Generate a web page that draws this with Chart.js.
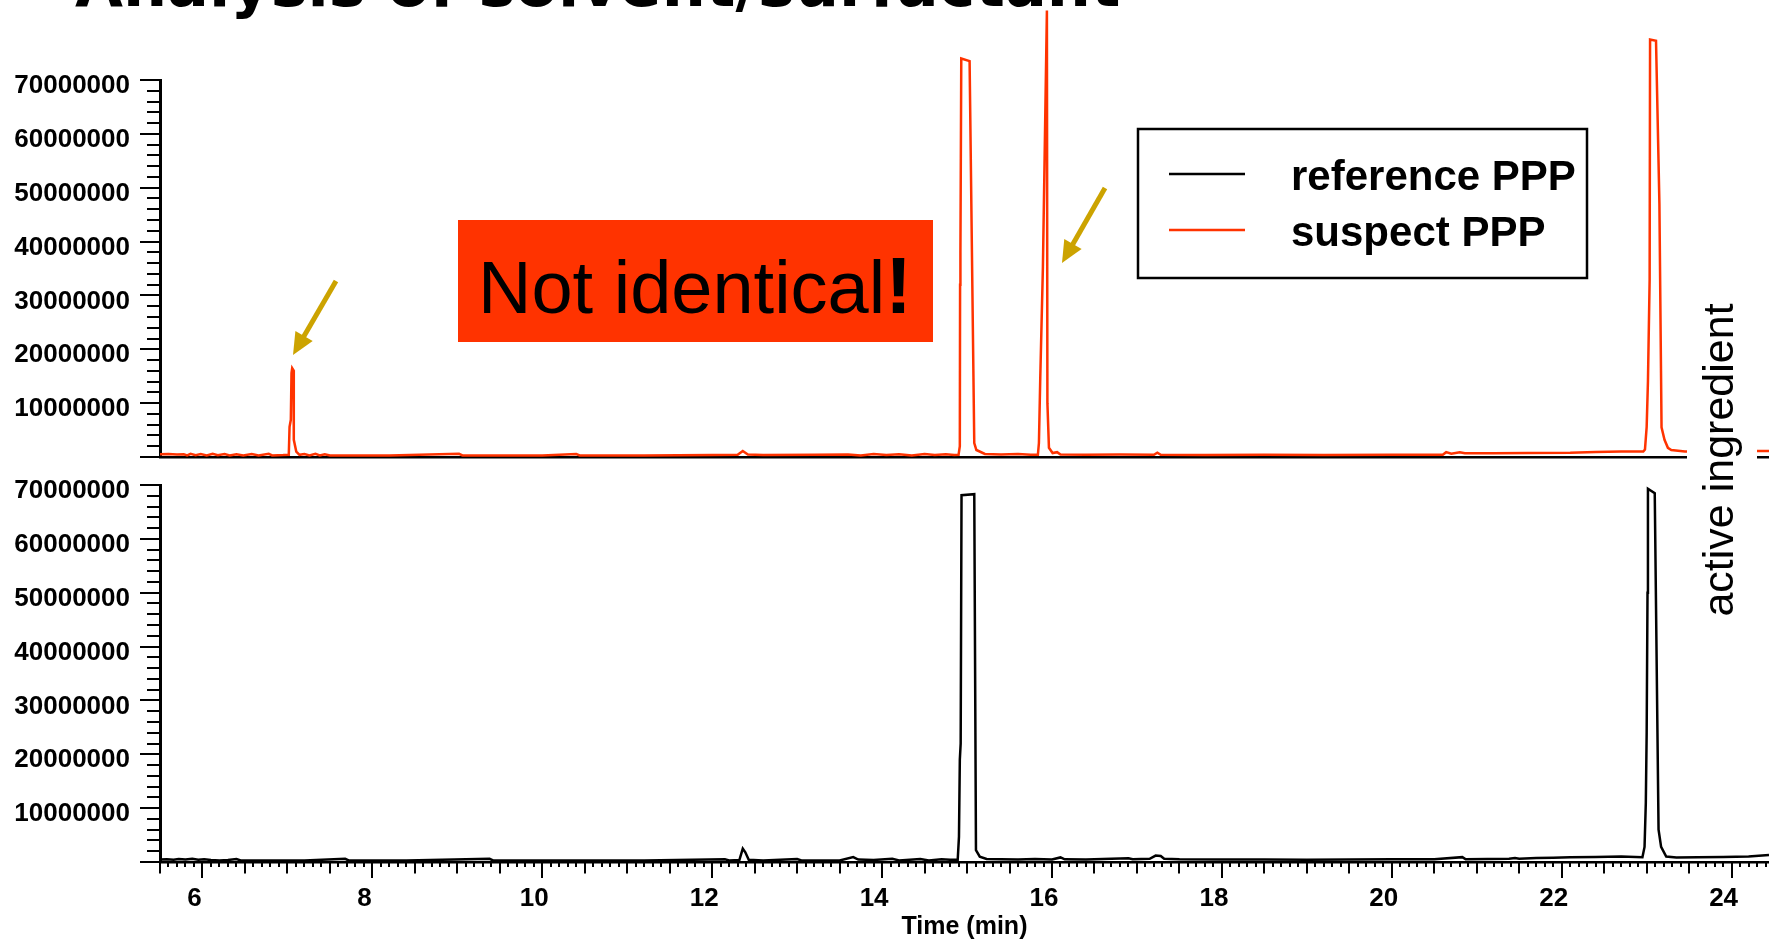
<!DOCTYPE html>
<html>
<head>
<meta charset="utf-8">
<title>Analysis of solvent/surfactant</title>
<script src="https://cdn.jsdelivr.net/npm/chart.js@4.4.1/dist/chart.umd.min.js"></script>
<style>
  html, body { margin:0; padding:0; background:#fff; overflow:hidden; }
  #page { position:relative; width:1769px; height:940px; }
  .pane { position:absolute; left:0; width:1769px; }
  #topPane { top:0; height:517px; }
  #botPane { top:425px; height:515px; }
  #overlay { position:absolute; left:0; top:0; pointer-events:none; }
</style>
</head>
<body>
<div id="page">
  <div class="pane" id="topPane"><canvas id="suspectChart"></canvas></div>
  <div class="pane" id="botPane"><canvas id="referenceChart"></canvas></div>
  <svg id="overlay" width="1769" height="940"></svg>
</div>
<script>
/* ---- data (time in min, signal in counts) ---- */
const refTime = [5.50, 5.58, 5.66, 5.72, 5.80, 5.88, 5.95, 6.02, 6.10, 6.20, 6.30, 6.40, 6.45, 6.80, 7.20,
  7.68, 7.72, 8.40, 9.38, 9.42, 10.40, 11.20, 12.15, 12.20, 12.32, 12.36, 12.39, 12.43, 12.60, 13.00,
  13.05, 13.50, 13.66, 13.72, 13.90, 14.12, 14.20, 14.45, 14.55, 14.70, 14.80, 14.89, 14.905, 14.915, 14.925,
  14.935, 15.085, 15.105, 15.15, 15.23, 15.40, 15.60, 15.80, 16.00, 16.10, 16.15, 16.40, 16.60, 16.90, 16.95,
  17.15, 17.22, 17.28, 17.32, 17.50, 18.00, 18.50, 19.00, 19.50, 20.00, 20.50, 20.83, 20.87, 21.38, 21.45,
  21.50, 21.70, 21.90, 22.10, 22.40, 22.70, 22.95, 22.975, 22.99, 23.00, 23.01, 23.015, 23.095, 23.14, 23.17,
  23.23, 23.35, 23.60, 23.90, 24.20, 24.44];
const refSignal = [0.45e6, 0.5e6, 0.4e6, 0.55e6, 0.45e6, 0.6e6, 0.4e6, 0.5e6, 0.35e6, 0.3e6, 0.35e6, 0.55e6, 0.3e6, 0.3e6, 0.3e6,
  0.6e6, 0.3e6, 0.3e6, 0.6e6, 0.3e6, 0.3e6, 0.3e6, 0.5e6, 0.3e6, 0.35e6, 2.5e6, 1.8e6, 0.4e6, 0.3e6, 0.55e6,
  0.3e6, 0.3e6, 0.9e6, 0.45e6, 0.35e6, 0.6e6, 0.3e6, 0.55e6, 0.3e6, 0.5e6, 0.4e6, 0.4e6, 4.7e6, 19e6, 22e6,
  68.1e6, 68.3e6, 2.2e6, 1.0e6, 0.56e6, 0.5e6, 0.45e6, 0.55e6, 0.45e6, 0.85e6, 0.5e6, 0.45e6, 0.55e6, 0.7e6, 0.5e6,
  0.6e6, 1.2e6, 1.1e6, 0.6e6, 0.5e6, 0.45e6, 0.45e6, 0.4e6, 0.45e6, 0.5e6, 0.5e6, 0.9e6, 0.5e6, 0.6e6, 0.75e6,
  0.6e6, 0.75e6, 0.8e6, 0.9e6, 0.95e6, 1.0e6, 0.9e6, 2.8e6, 11e6, 24e6, 50e6, 69.3e6, 68.5e6, 6e6, 2.8e6,
  1.0e6, 0.85e6, 0.9e6, 0.95e6, 1.0e6, 1.3e6];

const susTime = [5.50, 5.60, 5.70, 5.78, 5.82, 5.86, 5.92, 5.98, 6.05, 6.12, 6.18, 6.26, 6.32, 6.40, 6.48,
  6.58, 6.66, 6.78, 6.82, 6.95, 7.016, 7.025, 7.04, 7.048, 7.056, 7.072, 7.075, 7.104, 7.142, 7.20,
  7.26, 7.33, 7.38, 7.44, 7.50, 8.20, 9.02, 9.06, 10.00, 10.40, 10.44, 11.20, 12.00, 12.30, 12.36,
  12.42, 12.60, 13.20, 13.60, 13.75, 13.90, 14.05, 14.20, 14.35, 14.50, 14.62, 14.75, 14.85, 14.90, 14.915,
  14.918, 14.922, 14.932, 15.03, 15.085, 15.11, 15.21, 15.40, 15.60, 15.75, 15.834, 15.846, 15.862, 15.893, 15.94,
  15.946, 15.964, 16.007, 16.06, 16.10, 16.40, 16.80, 17.20, 17.24, 17.28, 17.80, 18.50, 19.20, 20.00, 20.60,
  20.64, 20.70, 20.80, 20.86, 21.20, 21.60, 22.10, 22.40, 22.70, 22.96, 22.98, 23.00, 23.015, 23.035, 23.04,
  23.11, 23.15, 23.175, 23.21, 23.25, 23.29, 23.45, 23.80, 24.20, 24.44];
const susSignal = [0.5e6, 0.55e6, 0.45e6, 0.5e6, 0.3e6, 0.6e6, 0.35e6, 0.55e6, 0.3e6, 0.6e6, 0.35e6, 0.55e6, 0.3e6, 0.5e6, 0.3e6,
  0.55e6, 0.3e6, 0.6e6, 0.3e6, 0.35e6, 0.4e6, 5.6e6, 6.9e6, 15.6e6, 16.5e6, 16.1e6, 3.2e6, 1.0e6, 0.4e6, 0.55e6,
  0.3e6, 0.6e6, 0.3e6, 0.5e6, 0.3e6, 0.3e6, 0.6e6, 0.3e6, 0.3e6, 0.55e6, 0.3e6, 0.3e6, 0.35e6, 0.4e6, 1.1e6,
  0.45e6, 0.35e6, 0.4e6, 0.45e6, 0.3e6, 0.55e6, 0.35e6, 0.5e6, 0.3e6, 0.55e6, 0.35e6, 0.5e6, 0.35e6, 0.4e6, 2.0e6,
  32e6, 38e6, 74e6, 73.5e6, 2.6e6, 1.3e6, 0.56e6, 0.45e6, 0.55e6, 0.4e6, 0.4e6, 2.6e6, 14.8e6, 35.3e6, 82.9e6,
  10e6, 1.7e6, 0.74e6, 0.9e6, 0.45e6, 0.4e6, 0.45e6, 0.4e6, 0.8e6, 0.4e6, 0.35e6, 0.4e6, 0.35e6, 0.4e6, 0.4e6,
  0.9e6, 0.6e6, 0.9e6, 0.7e6, 0.7e6, 0.75e6, 0.8e6, 0.95e6, 1.0e6, 1.0e6, 1.4e6, 5.6e6, 14e6, 33e6, 77.5e6,
  77.3e6, 47e6, 5.5e6, 3.2e6, 1.7e6, 1.3e6, 1.0e6, 1.0e6, 1.1e6, 1.1e6];

const seriesNames  = ['reference PPP', 'suspect PPP'];
const seriesColors = ['#000000', '#FF3300'];

// axis ranges
const xMin = 5.5, xMax = 24.44;
const yMax = 70000000, yStep = 10000000, yMinor = 2000000;

const FONT = "'Liberation Sans', Arial, sans-serif";
const tickFont = { family: FONT, weight: 'bold', size: 26 };

const toPoints = (xs, ys) => xs.map((x, i) => ({ x, y: ys[i] }));

/* minor / major tick marks drawn off the scales */
const tickMarks = {
  id: 'tickMarks',
  afterDraw(chart, args, opts) {
    const { ctx, scales: { x, y } } = chart;
    ctx.save();
    ctx.strokeStyle = '#000';
    ctx.lineWidth = 2;
    ctx.beginPath();
    for (let i = 0; i * yMinor <= yMax; i++) {
      const py = Math.round(y.getPixelForValue(i * yMinor));
      const len = i % 5 === 0 ? 20 : 13;
      ctx.moveTo(y.right - len, py);
      ctx.lineTo(y.right, py);
    }
    if (opts.xTicks) {
      for (let k = Math.ceil(xMin * 10); k <= Math.floor(xMax * 10); k++) {
        const px = Math.round(x.getPixelForValue(k / 10));
        const len = k % 20 === 0 ? 16 : (k % 5 === 0 ? 11.5 : 5);
        ctx.moveTo(px, x.top);
        ctx.lineTo(px, x.top + len);
      }
    }
    ctx.stroke();
    ctx.restore();
  }
};

// padding keeps room for the y labels, so the plot box lands where the reference has it
function makeChart(id, idx, xs, ys, bottomAxis) {
  return new Chart(document.getElementById(id), {
    type: 'line',
    data: {
      datasets: [{
        label: seriesNames[idx],
        data: toPoints(xs, ys),
        borderColor: seriesColors[idx],
        borderWidth: 2.5,
        pointRadius: 0,
        tension: 0,
        fill: false,
        clip: false          // peaks run above the 70000000 tick
      }]
    },
    options: {
      responsive: true,
      maintainAspectRatio: false,
      animation: false,
      events: [],
      layout: {
        autoPadding: false,
        padding: bottomAxis ? { top: 60, bottom: 0, left: 0, right: 0 }
                            : { top: 80, bottom: 60, left: 0, right: 0 }
      },
      plugins: {
        legend: { display: false },
        tooltip: { enabled: false },
        tickMarks: { xTicks: bottomAxis }
      },
      scales: {
        x: {
          type: 'linear', min: xMin, max: xMax,
          afterFit: s => { s.height = bottomAxis ? 78 : 0; },
          grid: { display: false, drawTicks: false },
          border: { display: true, color: '#000', width: 2.5 },
          ticks: {
            display: bottomAxis, stepSize: 2, includeBounds: false, autoSkip: false, maxRotation: 0,
            padding: 21, labelOffset: -8, color: '#000', font: tickFont,
            callback: v => (v % 2 === 0 ? v : '')
          },
          title: {
            display: bottomAxis, text: 'Time (min)', color: '#000',
            font: { family: FONT, weight: 'bold', size: 25, lineHeight: 1.05 }, padding: { top: 0, bottom: 0 }
          }
        },
        y: {
          min: 0, max: yMax,
          afterFit: s => { s.width = 160; },
          grid: { display: false, drawTicks: false },
          border: { display: true, color: '#000', width: 3 },
          ticks: {
            stepSize: yStep, padding: 30, labelOffset: 6, color: '#000', font: tickFont,
            callback: v => (v === 0 ? '' : String(v))
          }
        }
      }
    },
    plugins: [tickMarks]
  });
}

makeChart('suspectChart', 1, susTime, susSignal, false);
makeChart('referenceChart', 0, refTime, refSignal, true);

/* ---- overlay: title, note box, arrows, legend, side label ---- */
const svgNS = 'http://www.w3.org/2000/svg';
const overlay = document.getElementById('overlay');
function add(tag, attrs, text, parent = overlay) {
  const el = document.createElementNS(svgNS, tag);
  for (const k in attrs) el.setAttribute(k, attrs[k]);
  if (text) el.textContent = text;
  parent.appendChild(el);
  return el;
}

// slide title (cut off at the top)
add('text', { x: 75, y: 6, 'font-family': "'DejaVu Sans', Verdana, sans-serif", 'font-weight': 'bold',
  'font-size': 62, fill: '#000' }, 'Analysis of solvent/surfactant');

// "Not identical!" box
add('rect', { x: 458, y: 220, width: 475, height: 122, fill: '#FF3300' });
const note = add('text', { x: 478, y: 313, 'font-family': FONT, 'font-size': 74, fill: '#000' }, 'Not identical');
add('tspan', { 'font-weight': 'bold', 'font-size': 80 }, '!', note);

// gold arrows
const gold = '#CCA300';
function arrow([x1, y1], [x2, y2]) {
  const dx = x2 - x1, dy = y2 - y1, L = Math.hypot(dx, dy), ux = dx / L, uy = dy / L;
  const hl = 22, hw = 10;
  const bx = x2 - ux * hl, by = y2 - uy * hl;
  add('line', { x1, y1, x2: bx + ux * 2, y2: by + uy * 2, stroke: gold, 'stroke-width': 5 });
  add('polygon', { points: `${x2},${y2} ${bx - uy * hw},${by + ux * hw} ${bx + uy * hw},${by - ux * hw}`, fill: gold });
}
arrow([336, 281], [293, 355]);
arrow([1105, 188], [1062, 263]);

// legend
add('rect', { x: 1138, y: 129, width: 449, height: 149, fill: '#fff', stroke: '#000', 'stroke-width': 2.5 });
seriesNames.forEach((name, i) => {
  const yl = 174 + i * 56;
  add('line', { x1: 1169, y1: yl, x2: 1245, y2: yl, stroke: seriesColors[i], 'stroke-width': 2.5 });
  add('text', { x: 1291, y: yl + 16, 'font-family': FONT, 'font-weight': 'bold', 'font-size': 42, fill: '#000' }, name);
});

// white text box with rotated label
add('rect', { x: 1687, y: 285, width: 70, height: 350, fill: '#fff' });
add('text', { transform: 'translate(1733,460) rotate(-90)', 'text-anchor': 'middle', 'font-family': FONT,
  'font-size': 43, fill: '#000' }, 'active ingredient');
</script>
</body>
</html>
